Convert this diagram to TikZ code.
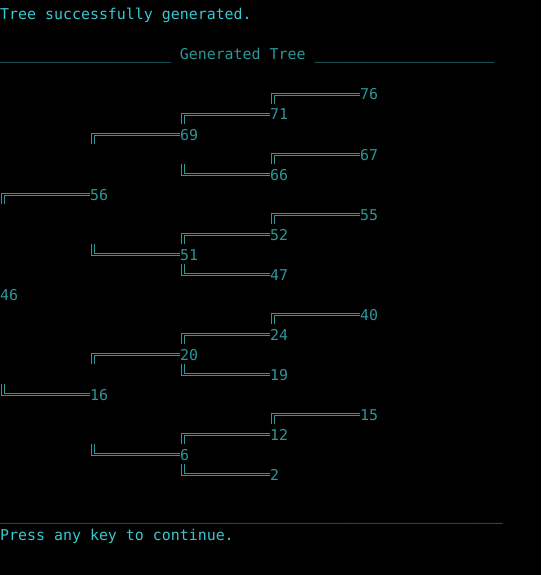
\documentclass[tikz,border=0pt]{standalone}
\usepackage{fontspec}
\setmonofont{DejaVu Sans Mono}
\definecolor{bright}{RGB}{58,200,208}
\definecolor{tealc}{RGB}{44,150,152}
\begin{document}
\begin{tikzpicture}[x=1pt,y=-1pt,
  txt/.style={anchor=base west,inner sep=0pt,font=\ttfamily\fontsize{14.92}{20}\selectfont},
  conn/.style={draw=tealc,line width=1pt,double=black,double distance=1.3pt}]
\fill[black] (0,0) rectangle (541,575);
\useasboundingbox (0,0) rectangle (541,575);
\node[txt,text=bright] (title) at (0,20) {Tree successfully generated.};
\node[txt,text=tealc] (header) at (0,60) {\_\_\_\_\_\_\_\_\_\_\_\_\_\_\_\_\_\_\_ Generated Tree \_\_\_\_\_\_\_\_\_\_\_\_\_\_\_\_\_\_\_\_};
\foreach \v/\c/\r in {76/40/4,71/30/5,69/20/6,67/40/7,66/30/8,56/10/9,55/40/10,52/30/11,51/20/12,47/30/13,46/0/14,40/40/15,24/30/16,20/20/17,19/30/18,16/10/19,15/40/20,12/30/21,6/20/22,2/30/23}
  \node[txt,text=tealc] (n\v) at (\c*9,20+20*\r) {\v};
\foreach \v/\pc/\r/\d in {76/30/4/4,71/20/5/4,69/10/6/4,67/30/7/4,66/20/8/-16,56/0/9/4,55/30/10/4,52/20/11/4,51/10/12/-16,47/20/13/-16,40/30/15/4,24/20/16/4,20/10/17/4,19/20/18/-16,16/0/19/-16,15/30/20/4,12/20/21/4,6/10/22/-16,2/20/23/-16}{
  \coordinate (k\v) at (\pc*9+3,20+20*\r+\d);
  \draw[conn] (k\v) |- (n\v.west);
}
\node[txt,text=tealc] (rule) at (0,520) {\_\_\_\_\_\_\_\_\_\_\_\_\_\_\_\_\_\_\_\_\_\_\_\_\_\_\_\_\_\_\_\_\_\_\_\_\_\_\_\_\_\_\_\_\_\_\_\_\_\_\_\_\_\_\_\_};
\node[txt,text=bright] (press) at (0,540) {Press any key to continue.};
\end{tikzpicture}
\end{document}
